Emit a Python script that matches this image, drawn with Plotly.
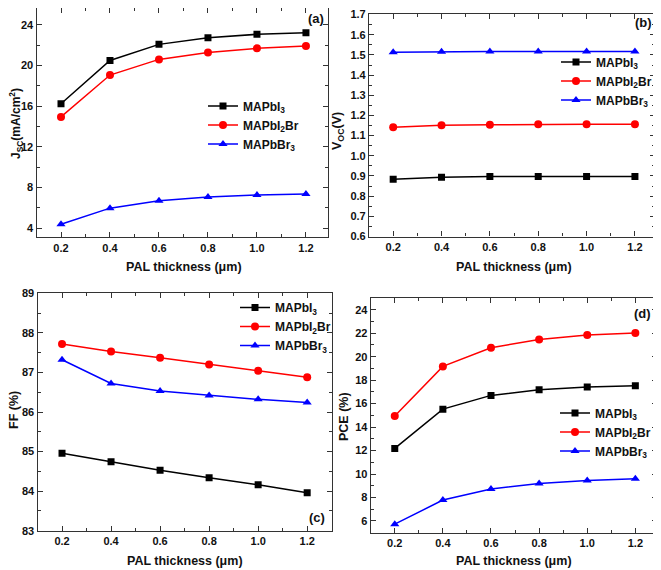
import plotly.graph_objects as go

# The page body adds an 8 px margin, so the figure is drawn 8 px in from the window edge.
OFF = 8
W, H = 661 - OFF, 570 - OFF

thickness = [0.2, 0.4, 0.6, 0.8, 1.0, 1.2]
series_names = ["MAPbI<sub>3</sub>", "MAPbI<sub>2</sub>Br", "MAPbBr<sub>3</sub>"]

jsc_mapbi3 = [16.24, 20.51, 22.09, 22.75, 23.08, 23.24]
jsc_mapbi2br = [14.95, 19.07, 20.61, 21.30, 21.70, 21.93]
jsc_mapbbr3 = [4.39, 5.97, 6.70, 7.06, 7.26, 7.36]

voc_mapbi3 = [0.884, 0.894, 0.897, 0.897, 0.897, 0.897]
voc_mapbi2br = [1.141, 1.151, 1.154, 1.156, 1.156, 1.156]
voc_mapbbr3 = [1.513, 1.516, 1.517, 1.517, 1.517, 1.517]

ff_mapbi3 = [84.96, 84.74, 84.53, 84.34, 84.16, 83.96]
ff_mapbi2br = [87.72, 87.53, 87.37, 87.20, 87.04, 86.88]
ff_mapbbr3 = [87.32, 86.72, 86.53, 86.42, 86.32, 86.24]

pce_mapbi3 = [12.18, 15.53, 16.70, 17.18, 17.41, 17.52]
pce_mapbi2br = [14.94, 19.17, 20.76, 21.47, 21.84, 22.01]
pce_mapbbr3 = [5.73, 7.78, 8.72, 9.20, 9.45, 9.60]

colors = ["#000000", "#ff0000", "#0000ff"]
symbols = ["square", "circle", "triangle-up"]
msizes = [7, 8, 8]

FONT = "Liberation Sans, Arial, sans-serif"

def px(x):
    return min(max((x - OFF) / W, 0), 1)

def py(y):
    return min(max(1 - (y - OFF) / H, 0), 1)

fig = go.Figure()

panels = [
    dict(data=[jsc_mapbi3, jsc_mapbi2br, jsc_mapbbr3], xd=(36.5, 328), yd=(8, 237.3),
         xr=[0.1, 1.29], yr=[3.1, 25.67], dt=4, mdt=2, t0=4,
         leg=(203, 91.5), lab=("(a)", 316, 18), yt=("J<sub>SC</sub>(mA/cm<sup>2</sup>)", 16, 124, 12),
         xt=(184, 267)),
    dict(data=[voc_mapbi3, voc_mapbi2br, voc_mapbbr3], xd=(369, 655), yd=(14, 236.5),
         xr=[0.1, 1.283], yr=[0.6, 1.703], dt=0.1, mdt=0.05, t0=0.6,
         leg=(556, 47.5), lab=("(b)", 643, 22), yt=("V<sub>OC</sub>(V)", 338, 131, 12.5),
         xt=(514, 267)),
    dict(data=[ff_mapbi3, ff_mapbi2br, ff_mapbbr3], xd=(37.5, 331.7), yd=(293.3, 530.7),
         xr=[0.1, 1.3], yr=[83, 89], dt=1, mdt=0.5, t0=83,
         leg=(235, 293), lab=("(c)", 317, 517), yt=("FF (%)", 14, 410, 12.5),
         xt=(185, 561)),
    dict(data=[pce_mapbi3, pce_mapbi2br, pce_mapbbr3], xd=(370.7, 657), yd=(298, 532.7),
         xr=[0.1, 1.29], yr=[5, 25], dt=2, mdt=1, t0=6,
         leg=(555, 398.5), lab=("(d)", 642, 313), yt=("PCE (%)", 344, 417, 12.5),
         xt=(514, 561)),
]

annotations = []
for i, p in enumerate(panels):
    n = i + 1
    xa = "x" if n == 1 else f"x{n}"
    ya = "y" if n == 1 else f"y{n}"
    lg = "legend" if n == 1 else f"legend{n}"
    for k in range(3):
        fig.add_trace(go.Scatter(
            x=thickness, y=p["data"][k], mode="lines+markers", name=series_names[k],
            line=dict(color=colors[k], width=1.5),
            marker=dict(symbol=symbols[k], size=msizes[k], color=colors[k]),
            xaxis=xa, yaxis=ya, legend=lg, showlegend=True))
    axis_common = dict(showline=True, linecolor="#333333", linewidth=1.2, mirror="allticks",
                       ticks="inside", ticklen=5, tickwidth=1, tickcolor="#333333",
                       showgrid=False, zeroline=False, automargin=False,
                       tickfont=dict(family=FONT, size=11, color="#111111", weight="bold"))
    fig.update_layout(**{
        ("xaxis" if n == 1 else f"xaxis{n}"): dict(
            domain=[px(p["xd"][0]), px(p["xd"][1])], range=p["xr"], anchor=ya,
            tickmode="array", tickvals=thickness, ticktext=[f"{v:.1f}" for v in thickness],
            minor=dict(ticks="inside", ticklen=3, tickvals=[0.1, 0.3, 0.5, 0.7, 0.9, 1.1, 1.3], tickcolor="#333333"),
            **axis_common),
        ("yaxis" if n == 1 else f"yaxis{n}"): dict(
            domain=[py(p["yd"][1]), py(p["yd"][0])], range=p["yr"], anchor=xa,
            tick0=p["t0"], dtick=p["dt"],
            tickformat=".1f" if n == 2 else "d",
            minor=dict(ticks="inside", ticklen=3, dtick=p["mdt"], tick0=p["t0"], tickcolor="#333333"),
            **axis_common),
        lg: dict(x=px(p["leg"][0]), y=py(p["leg"][1]), xanchor="left", yanchor="top",
                 bgcolor="rgba(0,0,0,0)", borderwidth=0, tracegroupgap=0,
                 font=dict(family=FONT, size=12, color="#111111", weight="bold"),
                 itemwidth=30),
    })
    annotations.append(dict(text=f"<b>{p['lab'][0]}</b>", x=px(p["lab"][1]), y=py(p["lab"][2]),
                            xref="paper", yref="paper", showarrow=False,
                            xanchor="center", yanchor="middle",
                            font=dict(family=FONT, size=13, color="#111111")))
    annotations.append(dict(text=f"<b>{p['yt'][0]}</b>", x=px(p["yt"][1]), y=py(p["yt"][2]),
                            xref="paper", yref="paper", showarrow=False, textangle=-90,
                            xanchor="center", yanchor="middle",
                            font=dict(family=FONT, size=p["yt"][3], color="#111111")))
    annotations.append(dict(text="<b>PAL thickness (μm)</b>", x=px(p["xt"][0]), y=py(p["xt"][1]),
                            xref="paper", yref="paper", showarrow=False,
                            xanchor="center", yanchor="middle",
                            font=dict(family=FONT, size=12.5, color="#111111")))

fig.update_layout(width=W, height=H, margin=dict(l=0, r=0, t=0, b=0, autoexpand=False),
                  paper_bgcolor="white", plot_bgcolor="white",
                  annotations=annotations, showlegend=True)

fig.write_html("out.html")
